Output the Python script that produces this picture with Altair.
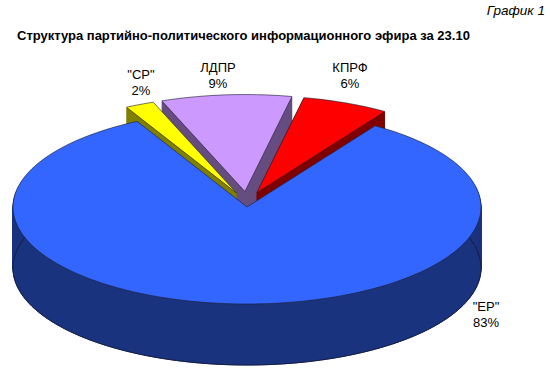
import altair as alt
import pandas as pd

# ---- data (clockwise order starting at the top-left) ----
parties = ['"СР"', 'ЛДПР', 'КПРФ', '"ЕР"']
shares = [2, 9, 6, 83]
top_colors = ['#FFFF00', '#CC99FF', '#FF0000', '#3366FF']
side_colors = ['#808000', '#664D80', '#800000', '#1A337F']
exploded = [1, 1, 1, 0]

title_text = "Структура партийно-политического информационного эфира за 23.10"
corner_text = "График 1"

# drawing order (back to front)
draw_order = ['ЛДПР', 'КПРФ', '"СР"', '"ЕР"']

# ---- geometry / style ----
W, H = 550, 378
CX, CY = 247, 207          # centre of the top face (px)
A, B = 234, 97             # ellipse semi-axes (px)
DEPTH = 61                 # thickness of the pie (px)
START = -28.0              # start angle, degrees clockwise from 12 o'clock
EXPLODE_X, EXPLODE_Y = 0.11, 0.16
FONT = "Liberation Sans"

label_pos = {'"СР"': (141, 75), 'ЛДПР': (218, 68), 'КПРФ': (350, 68), '"ЕР"': (486, 307)}

df = pd.DataFrame({
    'party': parties,
    'share': shares,
    'top': top_colors,
    'side': side_colors,
    'ex': exploded,
    'k': list(range(len(parties))),
})

xs = alt.Scale(domain=[-CX / A, (W - CX) / A], nice=False, zero=False)
ys = alt.Scale(domain=[(CY - H) / B, CY / B], nice=False, zero=False)

base = (
    alt.Chart(df)
    .transform_window(cum='sum(share)', sort=[alt.SortField('k', order='ascending')], frame=[None, 0])
    .transform_joinaggregate(total='sum(share)')
    .transform_calculate(
        a0=f"{START} + 360*(datum.cum - datum.share)/datum.total",
        a1=f"{START} + 360*datum.cum/datum.total",
    )
    .transform_calculate(
        mid="(datum.a0 + datum.a1)/2*PI/180",
        n="ceil((datum.a1 - datum.a0)/1.5)",
    )
    .transform_calculate(
        pts="sequence(0, datum.n + 2)",
        dk=f"sequence(0, {DEPTH + 1})",
    )
    .transform_flatten(['pts'])
    .transform_flatten(['dk'])
    .transform_calculate(
        t="(datum.a0 + (datum.a1 - datum.a0)*(datum.pts - 1)/datum.n)*PI/180",
    )
    .transform_calculate(
        px=f"datum.ex*{EXPLODE_X}*sin(datum.mid) + (datum.pts == 0 ? 0 : sin(datum.t))",
        py=f"datum.ex*{EXPLODE_Y}*cos(datum.mid) + (datum.pts == 0 ? 0 : cos(datum.t)) - datum.dk/{B}",
    )
)

enc = dict(
    x=alt.X('px:Q', scale=xs, axis=None),
    y=alt.Y('py:Q', scale=ys, axis=None),
    order=alt.Order('pts:Q'),
)

layers = []
for p in draw_order:
    k = parties.index(p)
    sub = base.transform_filter(alt.FieldEqualPredicate(field='k', equal=k))
    wall = sub.transform_filter(alt.FieldGTPredicate(field='dk', gt=0)).mark_line(
        interpolate='linear-closed', strokeWidth=1
    ).encode(
        detail='dk:Q',
        fill=alt.Fill('side:N', scale=None),
        stroke=alt.Stroke('side:N', scale=None),
        **enc,
    )
    layers.append(wall)
    if exploded[k] == 0:
        outline = sub.transform_filter(alt.FieldEqualPredicate(field='dk', equal=DEPTH)).mark_line(
            interpolate='linear-closed', strokeWidth=0.8, stroke='#101830'
        ).encode(**enc)
        layers.append(outline)
    top = sub.transform_filter(alt.FieldEqualPredicate(field='dk', equal=0)).mark_line(
        interpolate='linear-closed', strokeWidth=0.6, stroke='#1c1c2c'
    ).encode(
        fill=alt.Fill('top:N', scale=None),
        **enc,
    )
    layers.append(top)

# labels
for p in parties:
    k = parties.index(p)
    lx, ly = label_pos[p]
    lab = alt.Chart(df).transform_filter(alt.FieldEqualPredicate(field='k', equal=k)).transform_calculate(
        pct="datum.share + '%'"
    )
    layers.append(lab.mark_text(font=FONT, fontSize=13, color='black', align='center', baseline='middle').encode(
        x=alt.value(lx), y=alt.value(ly), text='party:N'))
    layers.append(lab.mark_text(font=FONT, fontSize=13, color='black', align='center', baseline='middle').encode(
        x=alt.value(lx), y=alt.value(ly + 16), text='pct:N'))

title_df = pd.DataFrame({'t': [title_text]})
corner_df = pd.DataFrame({'t': [corner_text]})
layers.append(alt.Chart(title_df).mark_text(font=FONT, fontSize=13, fontWeight='bold', align='left',
                                            baseline='middle', color='black').encode(
    x=alt.value(17), y=alt.value(36), text='t:N'))
layers.append(alt.Chart(corner_df).mark_text(font=FONT, fontSize=13.5, fontStyle='italic', align='right',
                                             baseline='middle', color='black').encode(
    x=alt.value(545), y=alt.value(11), text='t:N'))

chart = alt.layer(*layers).properties(
    width=W, height=H, padding=0, autosize='none', background='white'
).configure_view(stroke=None)

chart.save("out.html", embed_options={"renderer": "svg", "actions": False})
